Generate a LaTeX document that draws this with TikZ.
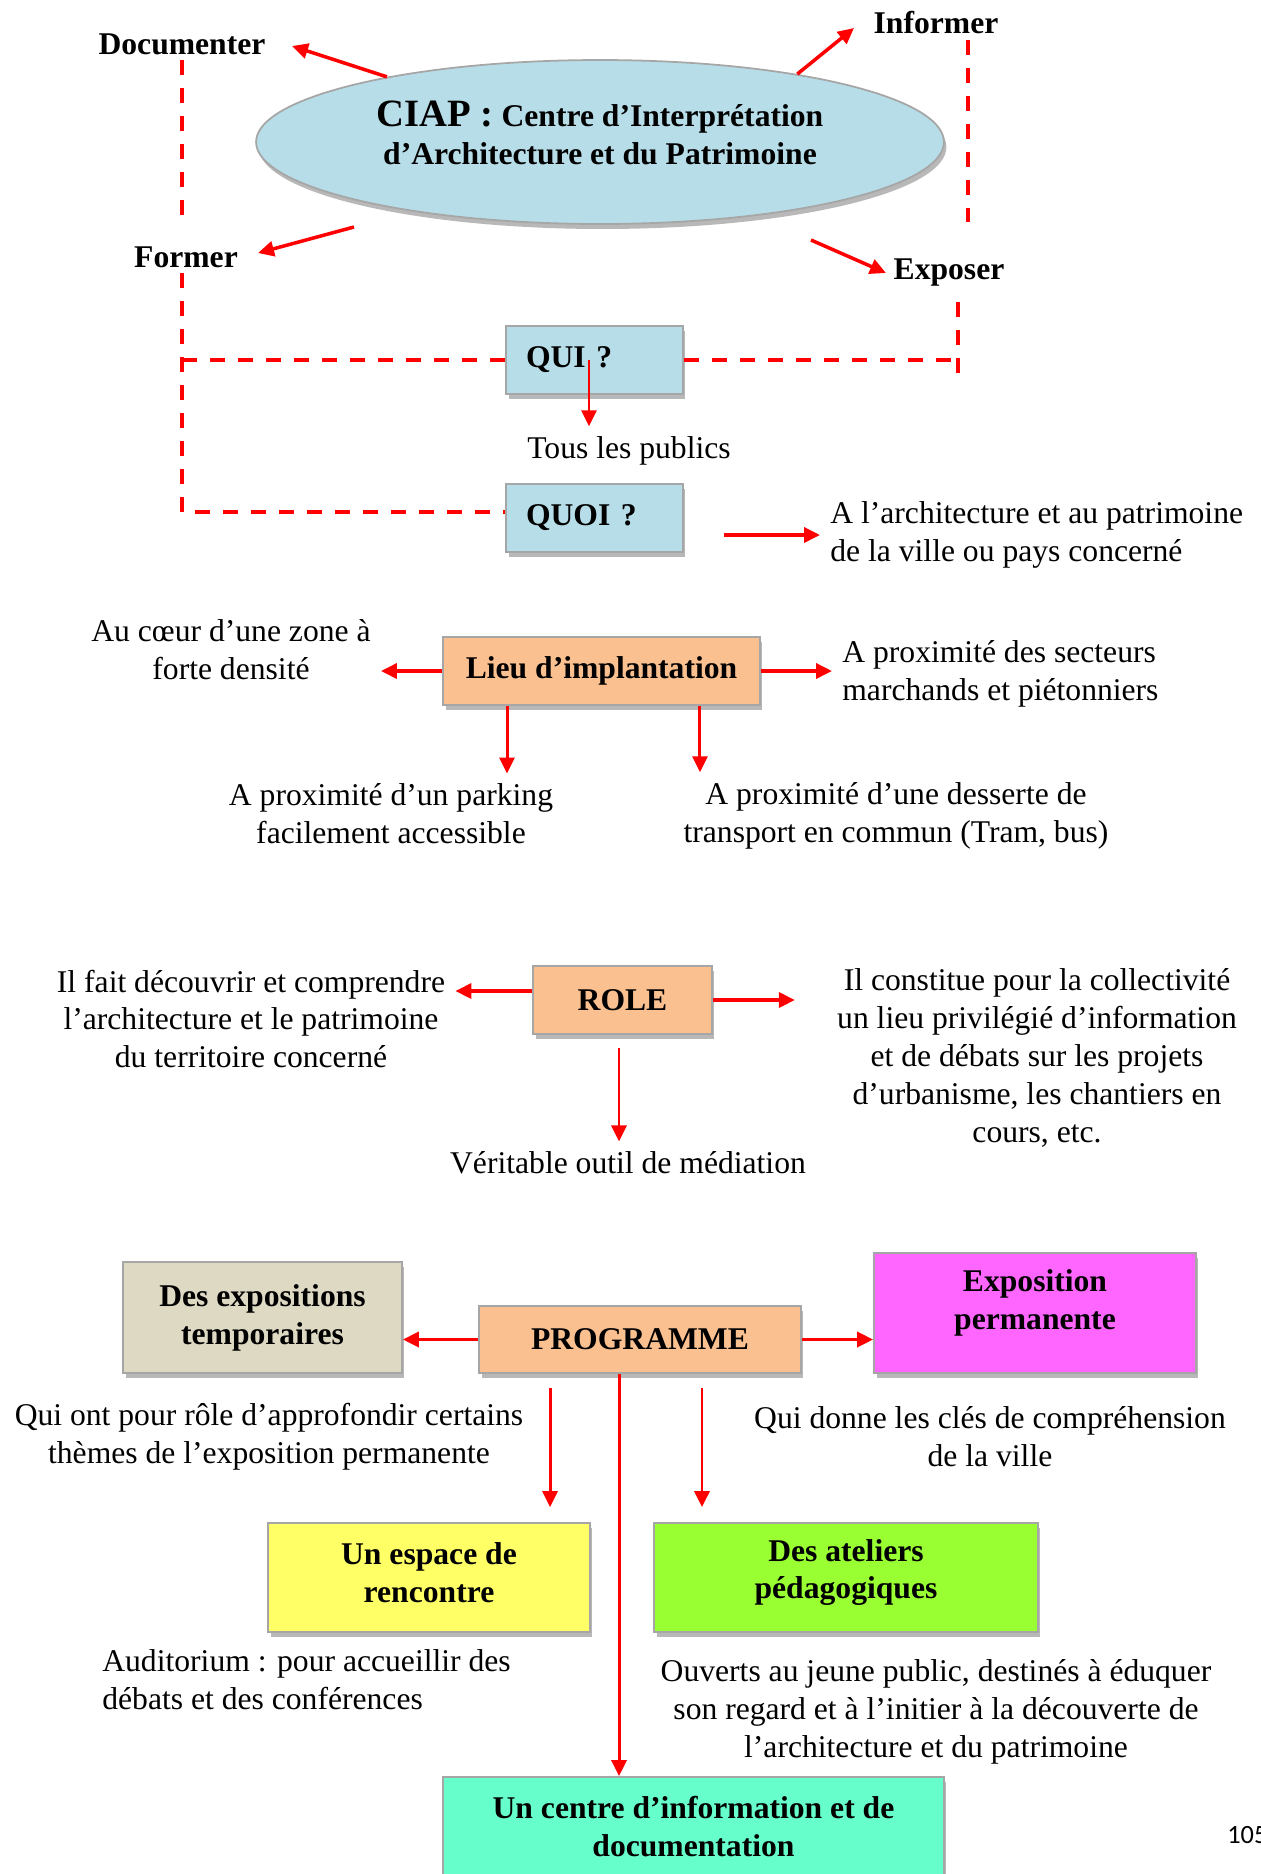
\documentclass[tikz,border=0pt]{standalone}
\usepackage{fontspec}
\setmainfont{Liberation Serif}
\newfontfamily\pagefont{Carlito}
\usetikzlibrary{arrows.meta,shapes,shadows}
\definecolor{ciapblue}{RGB}{183,221,232}
\definecolor{peach}{RGB}{250,192,143}
\definecolor{stone}{RGB}{221,217,195}
\definecolor{violetpink}{RGB}{255,102,255}
\definecolor{lemon}{RGB}{255,255,102}
\definecolor{lime}{RGB}{153,255,51}
\definecolor{aqua}{RGB}{102,255,204}
\definecolor{red}{RGB}{255,0,0}
% invisible strut below the last line, lifts the text in its box
\newcommand\liftup[1]{\rule[-#1]{0pt}{#1}}

\begin{document}
\begin{tikzpicture}[x=0.02cm,y=-0.02cm]
			\def\fsz{\fontsize{18}{21.6}\selectfont}

			\tikzset{line/.style={draw,line width=1.7pt}}
			\tikzset{arrow/.style={line,red,-{Triangle[width=0.3cm,length=0.32cm]}}}
			\tikzset{bigarrow/.style={arrow,line width=2pt}}
			\tikzset{dashline/.style={draw,red,line width=2pt,dash pattern=on 0.3cm off 0.26cm}}
			\tikzset{shade/.style={drop shadow={shadow xshift=0.05cm,shadow yshift=-0.1cm,fill=black!28,opacity=1}}}
			\tikzset{box/.style={draw=black!35,line width=1pt,font=\fsz\bfseries,align=center,inner sep=0.1cm,shade}}
			\tikzset{askbox/.style={box,fill=ciapblue,text width=2.74cm,inner xsep=0.4cm,align=left,minimum height=1.36cm}}
			\tikzset{txt/.style={font=\fsz,align=center,inner sep=0.2cm}}
			\tikzset{lbl/.style={font=\fsz\bfseries,inner sep=0.1cm}}

			\useasboundingbox (0,0) rectangle (1261,1874);

			% CIAP and its four missions
			\node[box,ellipse,fill=ciapblue,minimum width=13.76cm,minimum height=3.28cm] (ciap) at (600,142)
				{{\fontsize{22}{26}\selectfont CIAP :} Centre d’Interprétation\\d’Architecture et du Patrimoine\liftup{0.37cm}};

			\node[lbl] (documenter) at (182,44) {Documenter};
			\node[lbl] (informer) at (936,23) {Informer};
			\node[lbl] (former) at (186,257) {Former};
			\node[lbl] (exposer) at (949,273) {Exposer};

			\coordinate (doc-tip) at (292,46);
			\coordinate (inf-tip) at (854,28);
			\coordinate (fo-tail) at (354,227);
			\coordinate (fo-tip) at (258,253);
			\coordinate (ex-tail) at (811,240);
			\coordinate (ex-tip) at (886,273);

			\draw[bigarrow] (ciap.163) -- (doc-tip);
			\draw[bigarrow] (ciap.19) -- (inf-tip);
			\draw[bigarrow] (fo-tail) -- (fo-tip);
			\draw[bigarrow] (ex-tail) -- (ex-tip);

			% QUI / QUOI
			\node[askbox] (qui) at (594.5,360) {QUI ?};
			\node[askbox] (quoi) at (594.5,518) {QUOI ?};
			\node[txt] (tous) at (629,451) {Tous les publics};
			\node[txt,anchor=west,align=left] (archi) at (820,535) {A l’architecture et au patrimoine\\de la ville ou pays concerné};

			\draw[dashline,shorten >=0.44cm] (documenter.south) -- (documenter.south |- former.north);
			\draw[dashline] (documenter.south |- former.south) -- ([yshift=0.12cm]documenter.south |- quoi.west) -- ([yshift=0.12cm]quoi.west);
			\draw[dashline] (documenter.south |- qui.west) -- (qui.west);
			\draw[dashline,shorten >=0.64cm] ([xshift=0.64cm]informer.south) -- ([xshift=0.64cm]informer.south |- exposer.north);
			\draw[dashline] ([xshift=0.18cm,yshift=-0.2cm]exposer.south) -- ([xshift=0.18cm,yshift=-0.26cm]exposer.south |- qui.east);
			\draw[dashline] (qui.east) -- ([xshift=0.18cm]exposer.south |- qui.east);

			\draw[arrow] ([xshift=-0.11cm]qui.center) -- ([xshift=-0.11cm]qui.center |- tous.north);
			\draw[bigarrow] ([xshift=0.8cm]quoi.east |- archi.west) -- (archi.west);

			% Lieu d'implantation
			\node[box,fill=peach,minimum width=6.34cm,minimum height=1.36cm] (lieu) at (601.5,671) {Lieu d’implantation};
			\node[txt] (coeur) at (231,650) {Au cœur d’une zone à\\forte densité};
			\node[txt,anchor=west,align=left] (secteurs) at (832,674) {A proximité des secteurs\\marchands et piétonniers};
			\node[txt] (parking) at (391,814) {A proximité d’un parking\\facilement accessible};
			\node[txt] (desserte) at (896,816) {A proximité d’une desserte de\\transport en commun (Tram, bus)};

			\draw[bigarrow] (lieu.west) -- (lieu.west -| coeur.east);
			\draw[bigarrow] (lieu.east) -- (lieu.east -| secteurs.west);
			\draw[arrow] ([xshift=-1.89cm]lieu.south) -- ([xshift=-1.89cm]lieu.south |- parking.north);
			\draw[arrow] ([xshift=1.97cm]lieu.south) -- ([xshift=1.97cm]lieu.south |- desserte.north);

			% Role
			\node[box,fill=peach,minimum width=3.58cm,minimum height=1.36cm] (role) at (622.5,1000) {ROLE};
			\node[txt] (fait) at (251,1019) {Il fait découvrir et comprendre\\l’architecture et le patrimoine\\du territoire concerné};
			\node[txt] (constitue) at (1037,1058) {Il constitue pour la collectivité\\un lieu privilégié d’information\\et de débats sur les projets\\d’urbanisme, les chantiers en\\cours, etc.};
			\node[txt] (veritable) at (628,1163) {Véritable outil de médiation};

			\draw[bigarrow] ([yshift=0.18cm]role.west) -- ([yshift=0.18cm]role.west -| fait.east);
			\draw[bigarrow,shorten >=0.64cm] (role.east) -- (role.east -| constitue.west);
			\draw[arrow,shorten <=0.26cm] ([xshift=-0.07cm]role.south) -- ([xshift=-0.07cm]role.south |- veritable.north);

			% Programme
			\node[box,fill=peach,minimum width=6.44cm,minimum height=1.34cm] (prog) at (640,1339.5) {PROGRAMME};
			\node[box,fill=stone,minimum width=5.58cm,minimum height=2.22cm] (tempo) at (262.5,1317.5) {Des expositions\\temporaires};
			\node[box,fill=violetpink,minimum width=6.44cm,minimum height=2.4cm] (perm) at (1035,1313) {Exposition\\permanente\liftup{0.54cm}};
			\node[txt] (roletempo) at (269,1437) {Qui ont pour rôle d’approfondir certains\\thèmes de l’exposition permanente};
			\node[txt] (cles) at (990,1437) {Qui donne les clés de compréhension\\de la ville};
			\node[box,fill=lemon,minimum width=6.44cm,minimum height=2.18cm] (espace) at (429,1577.5) {Un espace de\\rencontre\liftup{0.2cm}};
			\node[box,fill=lime,minimum width=7.68cm,minimum height=2.18cm] (ateliers) at (846,1577.5) {Des ateliers\\pédagogiques\liftup{0.34cm}};
			\node[txt,anchor=west,align=left] (auditorium) at (92,1680) {Auditorium : pour accueillir des\\débats et des conférences};
			\node[txt] (ouverts) at (936,1712) {Ouverts au jeune public, destinés à éduquer\\son regard et à l’initier à la découverte de\\l’architecture et du patrimoine};
			\node[box,fill=aqua,minimum width=10.02cm,minimum height=2cm] (centre) at (693.5,1827) {Un centre d’information et de\\documentation};

			\draw[bigarrow] (prog.west) -- (prog.west -| tempo.east);
			\draw[bigarrow] (prog.east) -- (prog.east -| perm.west);
			\draw[arrow,shorten <=0.28cm,shorten >=0.3cm] ([xshift=-1.8cm]prog.south) -- ([xshift=-1.8cm]prog.south |- espace.north);
			\draw[arrow,shorten <=0.28cm,shorten >=0.3cm] ([xshift=1.24cm]prog.south) -- ([xshift=1.24cm]prog.south |- ateliers.north);
			\draw[arrow] ([xshift=-0.42cm]prog.south) -- ([xshift=-0.42cm]prog.south |- centre.north);

			\node[font=\pagefont\fontsize{15}{18}\selectfont,anchor=west,inner sep=0.1cm] (pagenum) at (1222,1835) {105};
		\end{tikzpicture}
\end{document}
